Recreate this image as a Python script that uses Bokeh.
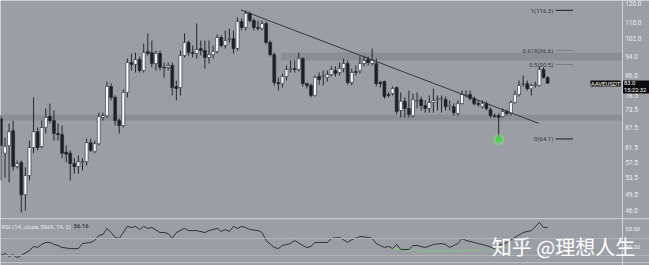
from bokeh.plotting import figure
from bokeh.models import Range1d, BoxAnnotation, Span, Label, ColumnDataSource
from bokeh.layouts import column
from bokeh.embed import file_html
from bokeh.resources import INLINE
from bokeh.core.properties import value

# ---------------- data ----------------
opens = [70.4, 60.0, 62.2, 66.6, 56.4, 57.5, 49.5, 54.1, 61.6, 66.3,
         61.9, 67.6, 71.1, 69.8, 65.7, 65.4, 60.3, 60.0, 57.2, 56.4,
         57.5, 57.7, 63.0, 60.5, 62.7, 70.8, 71.4, 81.7, 77.7, 69.8,
         68.2, 79.5, 91.3, 90.5, 92.6, 88.0, 96.1, 95.6, 90.9, 95.2,
         89.3, 89.3, 90.1, 81.7, 81.3, 94.3, 100.2, 95.6, 95.2, 97.4,
         96.5, 93.5, 94.7, 96.1, 102.5, 98.8, 101.6, 102.0, 97.4, 110.4,
         107.4, 114.6, 110.9, 107.4, 106.9, 109.4, 100.2, 94.7, 83.2, 82.8,
         85.6, 88.4, 88.8, 88.4, 93.0, 82.8, 82.1, 78.4, 85.6, 85.6,
         85.2, 86.4, 88.0, 87.2, 88.8, 90.9, 83.2, 87.6, 88.0, 90.9,
         92.6, 90.9, 90.9, 83.2, 83.6, 78.7, 79.1, 81.3, 73.1, 76.3,
         73.8, 71.4, 76.3, 76.9, 74.8, 73.8, 75.9, 76.9, 76.9, 76.9,
         74.4, 74.4, 72.1, 75.5, 78.4, 78.7, 77.3, 75.5, 74.4, 75.5,
         73.4, 71.4, 71.4, 71.1, 72.8, 72.1, 75.9, 78.7, 82.5, 82.8,
         80.9, 82.1, 82.1, 88.4, 85.2]
highs = [71.4, 64.5, 68.8, 69.8, 58.0, 58.0, 56.2, 63.6, 77.7, 67.6,
         69.8, 73.8, 75.5, 73.1, 68.8, 68.2, 62.2, 60.8, 58.6, 59.4,
         58.6, 64.2, 64.2, 63.6, 72.4, 72.4, 83.6, 82.9, 78.4, 70.4,
         80.6, 93.0, 95.2, 95.6, 93.9, 99.7, 104.5, 101.1, 96.5, 96.5,
         91.3, 91.3, 91.3, 84.0, 96.5, 104.5, 101.1, 98.8, 109.4, 101.1,
         101.1, 101.1, 98.8, 104.0, 103.5, 105.9, 106.9, 105.9, 112.5, 112.0,
         116.2, 115.6, 111.9, 110.9, 110.9, 110.4, 101.1, 95.6, 85.2, 86.8,
         90.1, 92.2, 92.2, 95.6, 93.5, 83.2, 82.8, 86.0, 87.2, 88.0,
         88.0, 89.7, 89.7, 91.3, 93.0, 92.2, 88.8, 90.1, 93.9, 94.3,
         93.9, 97.4, 93.0, 84.0, 84.0, 79.5, 81.7, 81.7, 79.5, 77.7,
         80.2, 79.1, 79.5, 78.0, 76.6, 78.4, 80.9, 78.4, 78.4, 78.0,
         76.6, 75.5, 76.6, 80.2, 80.2, 80.2, 78.0, 76.6, 76.6, 76.3,
         74.1, 72.1, 72.1, 73.8, 73.4, 76.6, 80.2, 84.0, 86.0, 84.0,
         82.8, 83.6, 89.7, 89.3, 85.6]
lows = [52.9, 53.6, 52.4, 55.4, 55.9, 45.6, 46.0, 52.9, 60.0, 60.8,
        61.3, 65.7, 68.8, 63.6, 63.6, 58.6, 57.5, 52.9, 54.6, 54.6,
        55.4, 56.7, 60.3, 60.0, 62.2, 69.8, 70.8, 76.6, 68.2, 65.7,
        67.6, 77.7, 88.0, 87.2, 87.2, 87.2, 94.3, 89.3, 88.0, 88.0,
        85.2, 88.0, 78.4, 76.6, 78.4, 93.5, 94.3, 93.5, 93.0, 94.3,
        88.8, 90.9, 93.0, 95.2, 97.9, 97.4, 100.2, 95.2, 96.5, 105.9,
        105.9, 109.9, 105.9, 105.9, 105.9, 99.3, 93.9, 82.1, 80.2, 81.3,
        84.0, 87.2, 87.2, 87.6, 81.7, 81.0, 77.7, 78.0, 82.4, 82.1,
        83.6, 85.6, 85.6, 86.0, 87.2, 82.4, 82.1, 86.0, 86.8, 89.7,
        90.1, 90.1, 81.7, 81.3, 77.3, 77.7, 78.4, 71.8, 70.8, 70.8,
        70.8, 70.8, 73.8, 73.1, 72.4, 72.4, 72.4, 73.1, 72.4, 73.1,
        73.1, 71.4, 71.4, 75.2, 77.7, 76.6, 74.8, 74.4, 73.8, 73.1,
        70.8, 70.8, 64.1, 70.8, 71.4, 71.4, 75.5, 78.0, 81.7, 80.2,
        78.4, 81.3, 81.7, 84.8, 82.8]
closes = [62.2, 61.9, 66.3, 56.4, 57.2, 49.5, 54.1, 61.6, 66.3, 61.6,
          67.6, 70.8, 69.8, 65.7, 65.4, 60.0, 59.7, 57.2, 56.4, 57.7,
          57.7, 63.0, 60.8, 62.7, 71.1, 71.4, 81.7, 77.7, 69.8, 68.2,
          79.5, 91.3, 90.5, 92.6, 88.0, 95.6, 95.2, 90.9, 95.2, 89.3,
          89.1, 90.1, 81.3, 81.0, 94.3, 100.2, 95.6, 95.2, 97.0, 96.5,
          93.5, 94.7, 96.1, 102.5, 98.8, 101.1, 102.0, 97.4, 110.4, 107.4,
          114.6, 110.9, 107.4, 106.9, 109.4, 100.2, 94.7, 83.2, 82.8, 85.6,
          88.4, 88.8, 88.4, 93.0, 82.8, 82.1, 78.4, 85.2, 84.4, 86.0,
          86.4, 88.4, 86.8, 88.8, 90.9, 83.2, 87.2, 87.2, 90.9, 92.2,
          91.3, 92.2, 82.8, 82.8, 78.0, 78.4, 81.0, 72.8, 76.3, 73.8,
          71.8, 76.9, 76.6, 74.8, 73.8, 75.9, 76.6, 77.3, 77.3, 74.4,
          74.8, 72.4, 75.5, 78.7, 78.7, 77.3, 75.5, 75.2, 75.5, 73.8,
          71.4, 71.1, 70.8, 72.8, 72.1, 75.9, 78.7, 82.1, 82.8, 80.9,
          82.1, 82.5, 88.4, 85.2, 83.0]

price_ticks = [120.0, 110.0, 102.0, 94.0, 86.0, 78.5, 73.5, 67.5, 61.5, 57.5, 53.5, 49.5, 46.0]
price_tick_labels = ["120.0", "110.0", "102.0", "94.0", "86.0", "78.5", "73.5", "67.5",
                     "61.5", "57.5", "53.5", "49.5", "46.0"]

zone_low_bottom, zone_low_top = 69.8, 71.7
zone_high_bottom, zone_high_top, zone_high_start = 92.2, 95.6, 68.6

trend_x = [58.8, 131.8]
trend_y = [116.5, 68.9]

fib_names = ["1(116.3)", "0.618(96.6)", "0.5(90.5)", "0(64.1)"]
fib_levels = [116.3, 96.6, 90.5, 64.1]

symbol = "AAVEUSDT"
last_price = 83.0
last_price_text = "83.0"
countdown_text = "15:22:32"
low_index, low_price = 122, 63.9

rsi_x = [0, 1, 2, 3, 4, 5, 7, 8, 9, 10, 11, 12, 13, 14, 15, 17, 18, 19, 20, 22,
         23, 24, 25, 26, 27, 28, 29, 31, 32, 33, 34, 35, 36, 37, 39, 40, 41, 42, 43, 45,
         46, 48, 50, 51, 53, 54, 55, 56, 57, 58, 59, 60, 61, 63, 64, 65, 67, 68, 69, 71,
         72, 74, 75, 76, 77, 78, 80, 81, 83, 85, 86, 88, 90, 91, 92, 93, 94, 95, 96, 97,
         98, 100, 101, 102, 104, 106, 108, 109, 110, 112, 113, 114, 116, 117, 119, 121, 122, 124, 126, 128,
         130, 132, 133, 134]
rsi_v = [40.6, 41.7, 40.0, 41.1, 39.4, 40.6, 43.3, 45.6, 45.0, 46.7, 47.8, 47.8, 46.7, 46.1, 45.0, 44.4, 44.4, 44.4, 47.2, 47.8,
         48.9, 51.7, 52.2, 55.6, 53.3, 50.6, 50.0, 56.7, 56.1, 56.7, 55.0, 56.7, 55.6, 56.1, 53.3, 53.3, 52.8, 50.0, 53.3, 55.6,
         54.4, 54.4, 53.3, 54.4, 55.6, 53.9, 55.0, 53.9, 56.7, 55.6, 56.7, 56.1, 55.0, 54.4, 53.3, 48.9, 45.0, 44.4, 46.1, 47.2,
         48.9, 46.1, 45.0, 45.6, 47.8, 47.8, 47.8, 50.0, 50.6, 47.8, 49.4, 51.1, 50.6, 50.0, 47.2, 46.1, 45.0, 45.6, 44.4, 46.7,
         43.9, 43.9, 46.1, 46.1, 45.0, 46.7, 47.2, 46.7, 45.0, 47.2, 50.0, 48.9, 47.8, 47.2, 46.1, 44.4, 46.1, 47.8, 50.6, 53.3,
         54.4, 58.9, 56.1, 56.2]
rsi_green_x = [96, 103, 113, 120, 125]
rsi_green_v = [44.4, 43.3, 43.3, 43.9, 45.6]
rsi_ticks = [55.0, 45.0]
rsi_tick_labels = ["55.00", "45.00"]
rsi_lines = [50.0, 40.6]
rsi_title = "RSI (14, close, SMA, 14, 2)"
rsi_last = "56.16"
watermark = "知乎 @理想人生"

# ---------------- styling ----------------
BG = "#9c9ea5"
BAND = "#8c8e94"
WICK = "#25272d"
DARK_BODY = "#1d2027"
LIGHT = "#d3d5da"
LABEL = "#eceef0"
TAG = "#0c0c0e"
FONT = "Roboto"
AXIS_X = 152.35       # price-scale border, in bar units
LABEL_X = 153.0

xr = Range1d(-0.1, 158.97)

p = figure(width=649, height=218, y_axis_type="log", x_range=xr, y_range=Range1d(44.34, 121.7),
           output_backend="svg", toolbar_location=None, x_axis_location=None, y_axis_location=None,
           min_border=0, background_fill_color=BG, border_fill_color=BG, outline_line_color=None)
p.grid.visible = False

p.add_layout(BoxAnnotation(right=AXIS_X, bottom=zone_low_bottom, top=zone_low_top, fill_color=BAND,
                           fill_alpha=1, line_color=None, level="underlay"))
p.add_layout(BoxAnnotation(left=zone_high_start, right=AXIS_X, bottom=zone_high_bottom, top=zone_high_top,
                           fill_color=BAND, fill_alpha=1, line_color=None, level="underlay"))
p.add_layout(Span(location=AXIS_X, dimension="height", line_color=LIGHT, line_width=1))

# price scale labels
p.text(x=[LABEL_X] * len(price_ticks), y=price_ticks, text=price_tick_labels, text_baseline="middle",
       text_font_size="6.5px", text_color=LABEL, text_font=value(FONT))

idx = list(range(len(opens)))
src = ColumnDataSource(dict(
    x=idx,
    top=[max(o, c) for o, c in zip(opens, closes)],
    bottom=[min(o, c) for o, c in zip(opens, closes)],
    high=highs, low=lows,
    color=["#ffffff" if c >= o else DARK_BODY for o, c in zip(opens, closes)],
))
p.segment(x0="x", y0="low", x1="x", y1="high", source=src, line_color=WICK, line_width=1)
p.vbar(x="x", top="top", bottom="bottom", width=0.72, source=src, fill_color="color",
       line_color=WICK, line_width=0.6)

p.line(trend_x, trend_y, line_color="#2a2c31", line_width=0.9)

# low marker
p.scatter([low_index], [low_price], size=12, fill_color="#7ee07e", fill_alpha=0.45, line_color=None)
p.scatter([low_index], [low_price], size=6, fill_color="#46d246", line_color=None)

# fib labels
fib_colors = ["#1a1a1a", "#7a7c82", "#7a7c82", "#1a1a1a"]
p.text(x=[135.4] * 4, y=fib_levels, text=fib_names, text_align="right", text_baseline="middle",
       text_font_size="6px", text_color="#34363b", text_font=value(FONT))
p.segment(x0=[136.0] * 4, y0=fib_levels, x1=[140.2] * 4, y1=fib_levels, line_color=fib_colors, line_width=1)

# price tags (symbol tag inside the pane, last price + countdown on the scale)
p.quad(left=[144.5, AXIS_X + 0.1], right=[151.9, 159.0], top=[84.0, 84.0], bottom=[81.7, 79.1],
       fill_color=TAG, line_color=None)
p.text(x=[148.2], y=[82.85], text=[symbol], text_align="center", text_baseline="middle",
       text_font_size="6px", text_color="#ffffff", text_font=value(FONT))
p.text(x=[152.7, 152.7], y=[last_price, 80.3], text=[last_price_text, countdown_text],
       text_baseline="middle", text_font_size="5.8px", text_color="#ffffff", text_font=value(FONT))

# ---------------- RSI pane ----------------
r = figure(width=649, height=47, x_range=xr, y_range=Range1d(35.0, 61.11),
           output_backend="svg", toolbar_location=None, x_axis_location=None, y_axis_location=None,
           min_border=0, background_fill_color=BG, border_fill_color=BG, outline_line_color=None)
r.grid.visible = False

r.add_layout(Span(location=61.0, dimension="width", line_color="#c2c4c9", line_width=1))
r.add_layout(Span(location=36.6, dimension="width", line_color="#c2c4c9", line_width=1))
for lv in rsi_lines:
    r.add_layout(Span(location=lv, dimension="width", line_color="#b3b5ba", line_width=1))
r.add_layout(Span(location=AXIS_X, dimension="height", line_color=LIGHT, line_width=1))

r.text(x=[LABEL_X] * 2, y=rsi_ticks, text=rsi_tick_labels, text_baseline="middle",
       text_font_size="6px", text_color=LABEL, text_font=value(FONT))

r.line(rsi_green_x, rsi_green_v, line_color="#86c486", line_width=1.2, line_alpha=0.8)
r.line(rsi_x, rsi_v, line_color="#25272d", line_width=0.9)

r.text(x=[0.2], y=[56.9], text=[rsi_title], text_baseline="middle",
       text_font_size="6px", text_color="#e4e6ea", text_font=value(FONT))
r.text(x=[17.8], y=[56.9], text=[rsi_last], text_baseline="middle",
       text_font_size="6px", text_color="#1a1a1a", text_font=value(FONT))

r.add_layout(Label(x=120.3, y=45.6, text=watermark, text_baseline="middle",
                   text_font="Noto Sans CJK SC", text_font_size="20px", text_color="#ffffff"))

layout = column(p, r, spacing=0)
open("out.html", "w").write(file_html(layout, INLINE))
